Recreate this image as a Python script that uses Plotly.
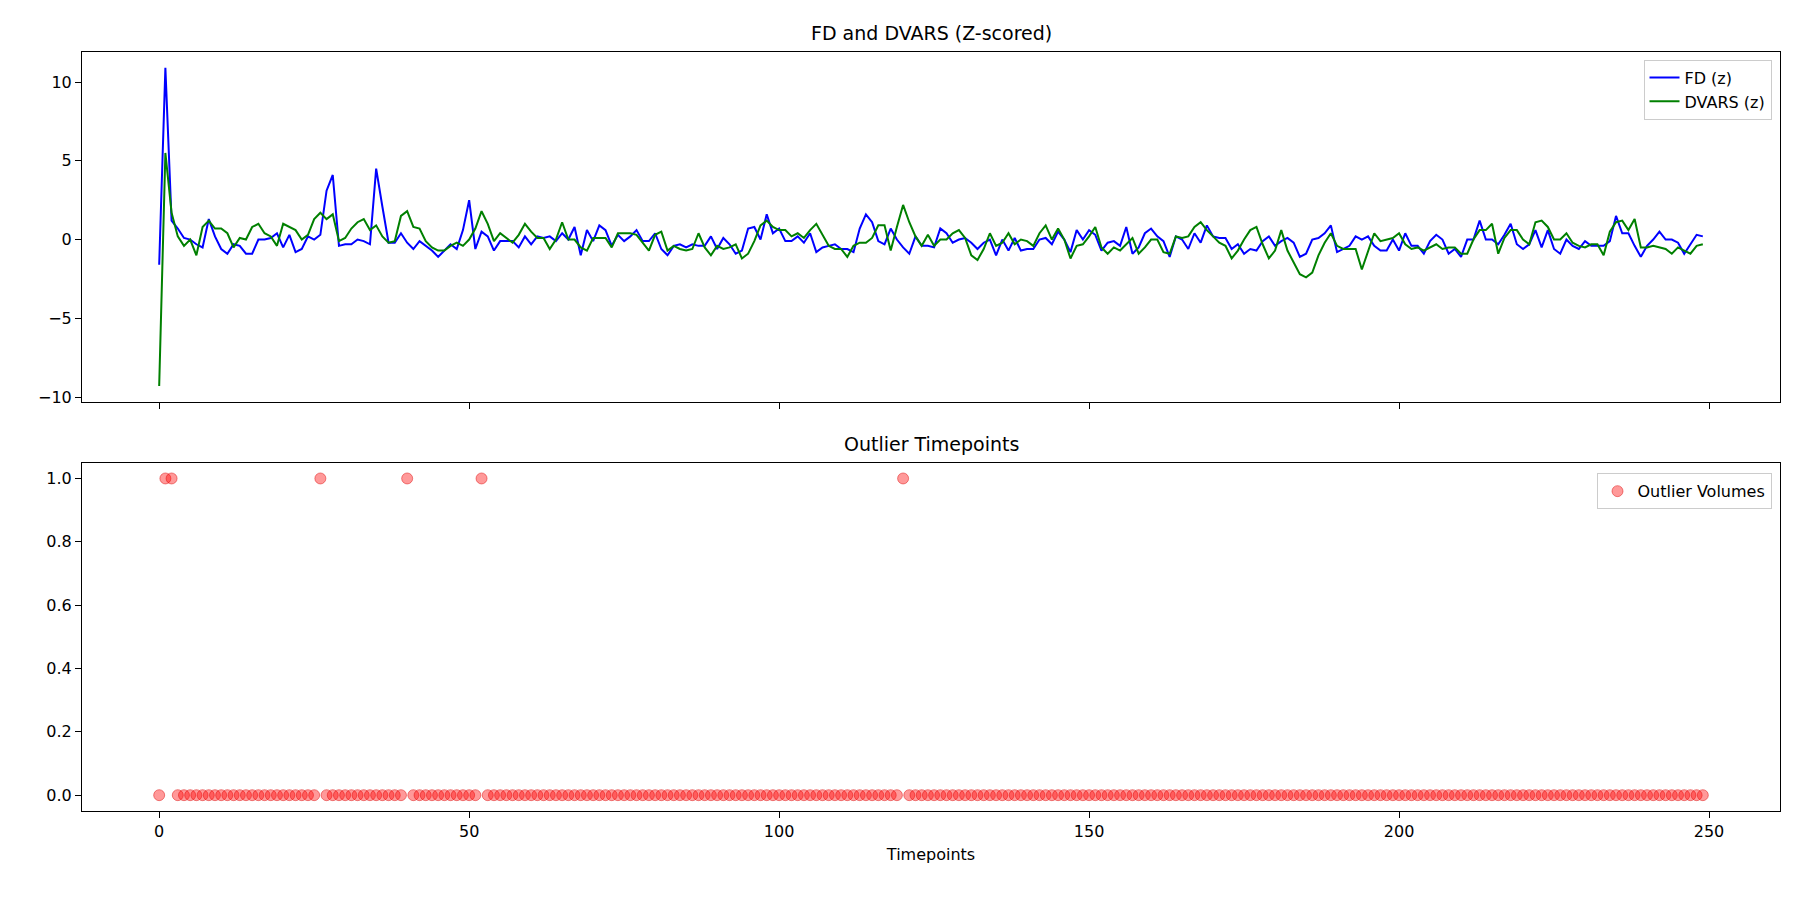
import plotly.graph_objects as go
from plotly.subplots import make_subplots

fd = [-1.6,10.9,1.2,0.7,0.1,0,-0.3,-0.5,1.3,0.2,
      -0.6,-0.9,-0.3,-0.4,-0.9,-0.9,0,0,0.1,0.4,
      -0.5,0.3,-0.8,-0.6,0.2,0,0.3,3.1,4.1,-0.4,
      -0.3,-0.3,0,-0.1,-0.3,4.5,2.1,-0.2,-0.2,0.4,
      -0.2,-0.6,-0.1,-0.4,-0.7,-1.1,-0.7,-0.3,-0.6,0.6,
      2.5,-0.6,0.5,0.2,-0.7,-0.1,-0.1,-0.1,-0.5,0.2,
      -0.3,0.2,0.1,0.2,-0.1,0.4,0,0.8,-1.0,0.6,
      -0.1,0.9,0.6,-0.4,0.3,-0.1,0.2,0.6,-0.1,-0.1,
      0.4,-0.6,-1.0,-0.4,-0.3,-0.5,-0.3,-0.4,-0.4,0.2,
      -0.6,0.1,-0.3,-0.9,-0.7,0.7,0.8,0,1.6,0.4,
      0.7,-0.1,-0.1,0.2,-0.2,0.4,-0.8,-0.5,-0.4,-0.3,
      -0.6,-0.6,-0.8,0.7,1.6,1.1,-0.1,-0.3,0.7,0,
      -0.5,-0.9,0.2,-0.4,-0.4,-0.5,0.7,0.4,-0.2,0,
      0.1,-0.2,-0.6,-0.2,0,-1.0,0,-0.7,0.1,-0.7,
      -0.6,-0.6,0,0.1,-0.3,0.5,0,-0.8,0.6,0,
      0.6,0.3,-0.7,-0.2,-0.1,-0.4,0.8,-0.9,-0.5,0.4,
      0.7,0.2,-0.1,-1.1,0.2,0,-0.6,0.4,-0.2,0.9,
      0.2,0.1,0.1,-0.6,-0.3,-0.9,-0.6,-0.7,-0.1,0.2,
      -0.4,-0.1,0.1,-0.2,-1.1,-0.9,0,0.1,0.4,0.9,
      -0.8,-0.6,-0.4,0.2,0,0.2,-0.4,-0.7,-0.7,0,
      -0.7,0.4,-0.4,-0.4,-0.9,-0.1,0.3,0,-0.9,-0.6,
      -1.1,0,0,1.2,0,0,-0.3,0.3,1.0,-0.3,
      -0.6,-0.3,0.6,-0.5,0.6,-0.6,-0.9,0,-0.4,-0.6,
      -0.1,-0.4,-0.4,-0.4,-0.1,1.5,0.4,0.4,-0.4,-1.1,
      -0.4,0,0.5,0,0,-0.2,-0.9,-0.3,0.3,0.2]

dvars = [-9.3,5.5,1.7,0.2,-0.4,0,-1.0,0.8,1.2,0.7,
         0.7,0.4,-0.5,0.1,0,0.8,1.0,0.4,0.2,-0.4,
         1.0,0.8,0.6,0,0.3,1.3,1.7,1.3,1.6,-0.1,
         0.1,0.7,1.1,1.3,0.6,0.9,0.2,-0.2,-0.1,1.5,
         1.8,0.8,0.7,-0.1,-0.5,-0.7,-0.7,-0.4,-0.2,-0.4,
         0,0.7,1.8,1.0,-0.1,0.4,0.1,-0.2,0.3,1.0,
         0.5,0.1,0.1,-0.6,0,1.1,0,0,-0.5,-0.7,
         0.1,0.1,0.1,-0.5,0.4,0.4,0.4,0.3,-0.2,-0.7,
         0.3,0.5,-0.7,-0.4,-0.6,-0.7,-0.6,0.4,-0.5,-1.0,
         -0.4,-0.6,-0.5,-0.3,-1.2,-0.9,-0.1,0.9,1.2,0.8,
         0.6,0.6,0.2,0.4,0.1,0.6,1.0,0.3,-0.4,-0.6,
         -0.6,-1.1,-0.4,-0.2,-0.2,0.1,0.9,0.9,-0.7,0.8,
         2.2,1.1,0.2,-0.4,0.3,-0.4,0,0,0.4,0.6,
         0.1,-1.0,-1.3,-0.6,0.4,-0.4,-0.2,0.4,-0.3,0,
         -0.1,-0.4,0.4,0.9,0,0.7,0,-1.2,-0.4,-0.3,
         0.2,0.8,-0.5,-0.9,-0.5,-0.7,-0.3,0.1,-0.9,-0.5,
         0,0,-0.8,-0.9,0.2,0.1,0.2,0.8,1.1,0.6,
         0.2,-0.2,-0.4,-1.2,-0.7,0,0.6,0.8,-0.3,-1.2,
         -0.7,0.6,-0.7,-1.5,-2.2,-2.4,-2.1,-1.0,-0.2,0.4,
         -0.4,-0.6,-0.6,-0.6,-1.9,-0.7,0.4,-0.1,0,0.1,
         0.4,-0.3,-0.6,-0.5,-0.7,-0.5,-0.3,-0.6,-0.5,-0.5,
         -0.9,-0.9,0,0.6,0.6,1.0,-0.9,0.1,0.6,0.6,
         0,-0.3,1.1,1.2,0.8,0,0,0.4,-0.2,-0.4,
         -0.5,-0.3,-0.3,-1.0,0.5,1.1,1.2,0.6,1.3,-0.5,
         -0.5,-0.4,-0.5,-0.6,-0.9,-0.5,-0.7,-0.9,-0.4,-0.3]

outlier_idx = [1, 2, 26, 40, 52, 120]
n = len(fd)
t = list(range(n))
outliers = [1 if i in outlier_idx else 0 for i in t]

fig = make_subplots(rows=2, cols=1, shared_xaxes=True, vertical_spacing=0.08)
fig.add_trace(go.Scatter(x=t, y=fd, mode="lines", name="FD (z)",
                         line=dict(color="blue", width=2), legend="legend"), 1, 1)
fig.add_trace(go.Scatter(x=t, y=dvars, mode="lines", name="DVARS (z)",
                         line=dict(color="green", width=2), legend="legend"), 1, 1)
fig.add_trace(go.Scatter(x=t, y=outliers, mode="markers", name="Outlier Volumes",
                         marker=dict(color="rgba(255,0,0,0.4)", size=11,
                                     line=dict(color="rgba(220,0,0,0.45)", width=1)),
                         legend="legend2"), 2, 1)

font = dict(family="DejaVu Sans", size=16, color="black")
ax = dict(showline=True, linecolor="black", linewidth=1, mirror=True, ticks="outside",
          ticklen=6, tickcolor="black", showgrid=False, zeroline=False, tickfont=font)
fig.update_xaxes(**ax, range=[-12.45, 261.45], tickvals=[0, 50, 100, 150, 200, 250])
fig.update_xaxes(showticklabels=False, row=1, col=1)
fig.update_xaxes(title=dict(text="Timepoints", font=font, standoff=8), row=2, col=1)
fig.update_yaxes(**ax)
fig.update_yaxes(range=[-10.31, 11.91], tickvals=[-10, -5, 0, 5, 10], row=1, col=1)
fig.update_yaxes(range=[-0.05, 1.05], tickvals=[0, 0.2, 0.4, 0.6, 0.8, 1.0], tickformat=".1f", row=2, col=1)
fig.update_layout(
    width=1800, height=900, paper_bgcolor="white", plot_bgcolor="white",
    margin=dict(l=74, r=28, t=44, b=97), font=font,
    yaxis=dict(domain=[0.539, 1]), yaxis2=dict(domain=[0, 0.459]),
    legend=dict(x=0.995, y=0.99, xanchor="right", yanchor="top", bordercolor="#cccccc",
                borderwidth=1, bgcolor="white", font=font),
    legend2=dict(x=0.995, y=0.445, xanchor="right", yanchor="top", bordercolor="#cccccc",
                 borderwidth=1, bgcolor="white", font=font),
    annotations=[
        dict(text="FD and DVARS (Z-scored)", x=0.5, y=1, xref="paper", yref="paper",
             xanchor="center", yanchor="bottom", yshift=6, showarrow=False,
             font=dict(family="DejaVu Sans", size=19, color="black")),
        dict(text="Outlier Timepoints", x=0.5, y=0.459, xref="paper", yref="paper",
             xanchor="center", yanchor="bottom", yshift=6, showarrow=False,
             font=dict(family="DejaVu Sans", size=19, color="black")),
    ],
)
fig.write_html("out.html")
